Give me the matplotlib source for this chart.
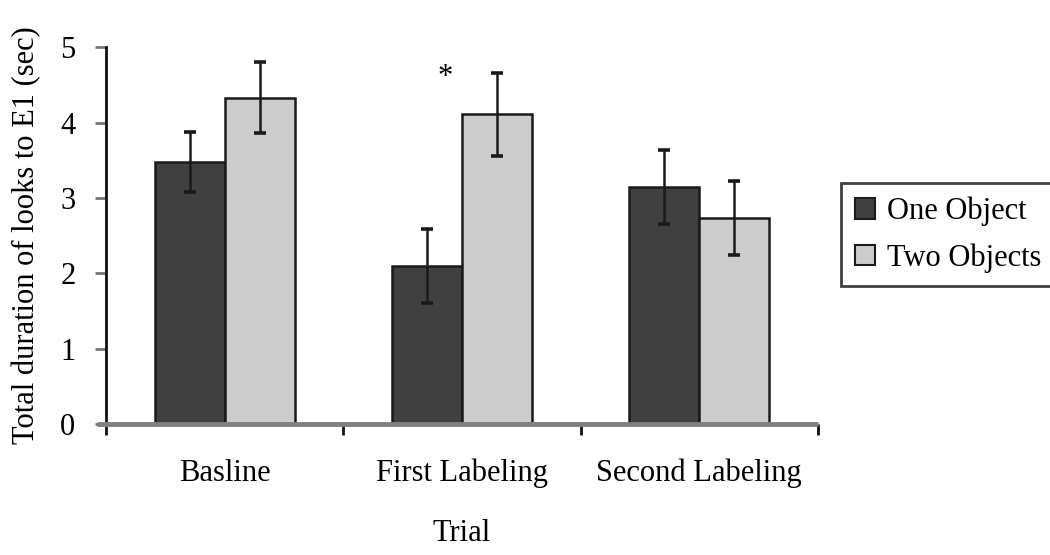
import matplotlib
matplotlib.use("Agg")
import matplotlib.pyplot as plt
import numpy as np

categories = ["Basline", "First Labeling", "Second Labeling"]
series_names = ["One Object", "Two Objects"]
one_object = [3.48, 2.10, 3.14]
two_objects = [4.33, 4.11, 2.73]
one_err = [0.40, 0.49, 0.49]
two_err = [0.47, 0.55, 0.49]
yticks = [0, 1, 2, 3, 4, 5]

plt.rcParams['font.family'] = ['Liberation Serif', 'DejaVu Serif']
FS = 22

fig = plt.figure(figsize=(10.5, 5.55), dpi=100)
ax = fig.add_axes([0.101, 0.236, 0.678, 0.679])

x = np.arange(len(categories))
w = 0.295
ax.bar(x - w/2, one_object, w, color='#404040', edgecolor='#1a1a1a', linewidth=1.8,
       label=series_names[0], zorder=2)
ax.bar(x + w/2, two_objects, w, color='#cccccc', edgecolor='#1a1a1a', linewidth=1.8,
       label=series_names[1], zorder=2)
ax.errorbar(x - w/2, one_object, yerr=one_err, fmt='none', ecolor='#1a1a1a',
            elinewidth=1.8, capsize=4.5, capthick=2.6, zorder=3)
ax.errorbar(x + w/2, two_objects, yerr=two_err, fmt='none', ecolor='#1a1a1a',
            elinewidth=1.8, capsize=4.5, capthick=2.6, zorder=3)

ax.text(0.93, 4.60, "*", ha='center', va='center', fontsize=FS)

ax.set_xlim(-0.5, 2.5)
ax.set_ylim(0, 5)
ax.set_yticks(yticks)
ax.set_yticklabels([str(v) for v in yticks], fontsize=FS)
ax.tick_params(axis='y', direction='out', length=8, width=2, color='#777777', pad=14)

ax.set_xticks([-0.5, 0.5, 1.5, 2.5])
ax.set_xticklabels([])
ax.tick_params(axis='x', which='major', direction='out', length=8, width=2, color='#111111')
ax.set_xticks(x, minor=True)
ax.set_xticklabels(categories, minor=True, fontsize=FS)
ax.tick_params(axis='x', which='minor', length=0, pad=25)

ax.set_xlabel("Trial", fontsize=FS, labelpad=22)
ax.set_ylabel("Total duration of looks to E1 (sec)", fontsize=FS, labelpad=14)

for s in ['top', 'right', 'bottom']:
    ax.spines[s].set_visible(False)
ax.spines['left'].set_linewidth(2)
ax.spines['left'].set_color('#111111')
ax.plot([-0.013, 1.0], [0, 0], transform=ax.transAxes, color='#808080', lw=3.5,
        clip_on=False, zorder=4, solid_capstyle='butt')

leg = ax.legend(loc='upper left', bbox_to_anchor=(0.801, 0.670), bbox_transform=fig.transFigure,
                fontsize=FS, frameon=True, fancybox=False, edgecolor='#111111',
                handlelength=0.65, handleheight=0.65, handletextpad=0.4, borderpad=0.45,
                labelspacing=0.55, borderaxespad=0)
leg.get_frame().set_linewidth(2)
for p in leg.get_patches():
    p.set_linewidth(1.5)

fig.savefig("out.png", dpi=100)
